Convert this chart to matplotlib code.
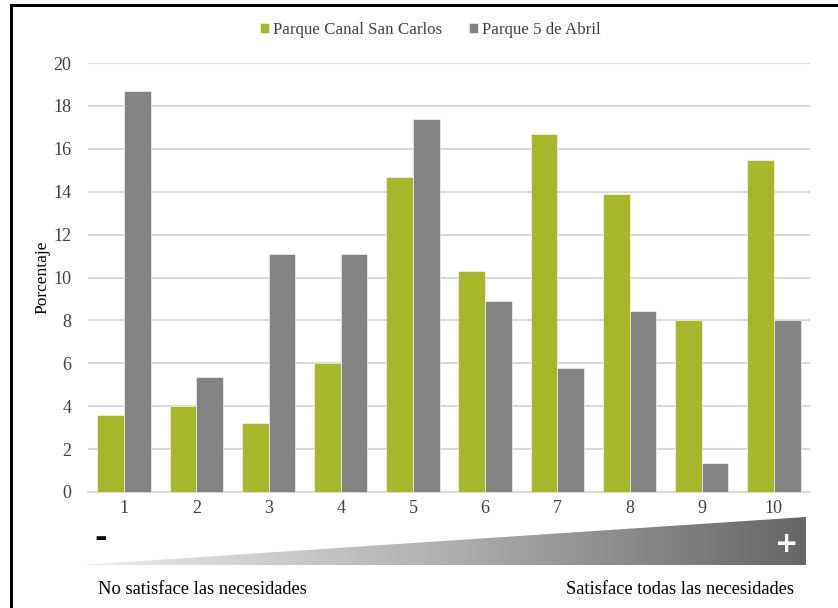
import numpy as np
import matplotlib
matplotlib.use("Agg")
import matplotlib.pyplot as plt
from matplotlib.patches import Polygon
from matplotlib.lines import Line2D

# Satisfacción de necesidades (escala 1-10), % de respuestas por parque
categorias = ["1", "2", "3", "4", "5", "6", "7", "8", "9", "10"]
canal_san_carlos = [3.6, 4.0, 3.2, 6.0, 14.7, 10.3, 16.7, 13.9, 8.0, 15.5]
cinco_de_abril = [18.7, 5.35, 11.1, 11.1, 17.4, 8.9, 5.8, 8.45, 1.35, 8.0]
series = ["Parque Canal San Carlos", "Parque 5 de Abril"]
yticks = [0, 2, 4, 6, 8, 10, 12, 14, 16, 18, 20]

VERDE = "#a6b82a"
GRIS = "#838383"
TEXTO = "#404040"

plt.rcParams["font.family"] = ["Liberation Serif", "DejaVu Serif"]

W, H = 838, 608
fig = plt.figure(figsize=(W / 100, H / 100), dpi=100)

ax = fig.add_axes([88 / W, 1 - 492 / H, (810 - 88) / W, (492 - 63) / H])
x = np.arange(1, len(categorias) + 1)
ancho = 0.37
ax.bar(x - ancho / 2, canal_san_carlos, ancho, color=VERDE, label=series[0],
       edgecolor="white", linewidth=0.4, zorder=3)
ax.bar(x + ancho / 2, cinco_de_abril, ancho, color=GRIS, label=series[1],
       edgecolor="white", linewidth=0.4, zorder=3)

ax.set_xlim(0.5, 10.5)
ax.set_ylim(0, 20)
ax.set_xticks(x)
ax.set_xticklabels(categorias)
ax.set_yticks(yticks)
ax.tick_params(length=0, labelsize=13, labelcolor=TEXTO)
ax.tick_params(axis="y", pad=12)
ax.tick_params(axis="x", pad=6)
ax.grid(axis="y", color="#d9d9d9", linewidth=1.5, zorder=0)
for lado in ["top", "right", "left"]:
    ax.spines[lado].set_visible(False)
ax.spines["bottom"].set_color("#d9d9d9")
ax.spines["bottom"].set_linewidth(1.5)
ax.set_ylabel("Porcentaje", fontsize=12.5, color="black")
ax.yaxis.set_label_coords(-(88 - 50) / 722, 0.5)

ax.legend(loc="center", bbox_to_anchor=(0.474, 1.077), ncol=2,
          frameon=False, fontsize=12.2, handlelength=0.5, handleheight=0.5,
          handletextpad=0.25, columnspacing=1.6, labelcolor=TEXTO)

# Capa en pixeles para la rampa de gris y el marco
capa = fig.add_axes([0, 0, 1, 1], zorder=5)
capa.set_xlim(0, W)
capa.set_ylim(H, 0)
capa.axis("off")
capa.patch.set_alpha(0)

gradiente = np.linspace(0, 1, 256).reshape(1, -1)
cmap = matplotlib.colors.LinearSegmentedColormap.from_list(
    "rampa", ["#ededed", "#b0b0b0", "#666666"])
img = capa.imshow(gradiente, cmap=cmap, aspect="auto",
                  extent=(80, 806, 565, 517), interpolation="bilinear")
triangulo = Polygon([(80, 565), (806, 517), (806, 565)], closed=True,
                    transform=capa.transData, facecolor="none", edgecolor="none")
capa.add_patch(triangulo)
img.set_clip_path(triangulo)

capa.text(101, 538, "-", fontsize=22, fontweight="bold", color="black",
          ha="center", va="center", family="DejaVu Sans")
capa.text(787, 544, "+", fontsize=20, fontweight="bold", color="white",
          ha="center", va="center", family="DejaVu Sans")

capa.text(98, 590, "No satisface las necesidades", fontsize=13.3,
          color="black", ha="left", va="center")
capa.text(794, 590, "Satisface todas las necesidades", fontsize=13.3,
          color="black", ha="right", va="center")

capa.add_line(Line2D([11, W], [5, 5], color="black", linewidth=2.2))
capa.add_line(Line2D([11, 11], [5, H], color="black", linewidth=2.2))

fig.savefig("out.png", dpi=100)
